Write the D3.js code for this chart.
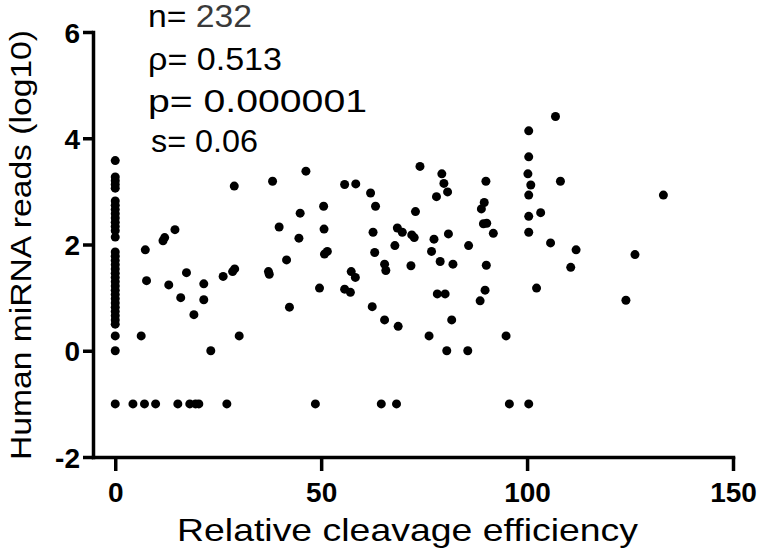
<!DOCTYPE html>
<html>
<head>
<meta charset="utf-8">
<script src="https://cdn.jsdelivr.net/npm/d3@7"></script>
<style>
  html, body { margin: 0; padding: 0; background: #fff; }
  svg { display: block; }
  text { font-family: "Liberation Sans", Arial, Helvetica, sans-serif; }
</style>
</head>
<body>
<svg id="chart" width="765" height="556"></svg>
<script>
// ---- data ----
const xTicks = [0, 50, 100, 150];
const yTicks = [-2, 0, 2, 4, 6];
const xTitle = "Relative cleavage efficiency";
const yTitle = "Human miRNA reads (log10)";
const statLabels = ["n= ", "ρ= ", "p= ", "s= "];
const statValues = ["232", "0.513", "0.000001", "0.06"];

// miRNAs with zero cleavage efficiency (x = 0): log10 reads
const zeroColumnReads = [3.58, 3.27, 3.2, 3.13, 3.06, 2.82, 2.74, 2.66, 2.58, 2.5, 2.42,
  2.34, 2.26, 2.14, 1.86, 1.78, 1.7, 1.62, 1.54, 1.46, 1.38, 1.3, 1.22, 1.14, 1.06,
  0.98, 0.9, 0.82, 0.74, 0.66, 0.58, 0.5, 0.28, 0, -1];

// miRNAs with no reads (y = -1): cleavage efficiency
const noReadsCleavage = [4.3, 7.1, 9.8, 15.2, 18.1, 19.5, 20.3, 27.1, 48.6, 64.6, 68.3, 95.7, 100.4];

// remaining miRNAs: cleavage efficiency and log10 reads
const cleavage = [7.3, 11.6, 12.0, 14.5, 7.6, 13.0, 17.3, 21.5, 15.9, 21.5, 26.2, 28.5, 29.0,
  28.9, 38.2, 39.8, 41.6, 37.2, 37.4, 19.1, 6.3, 30.1, 23.2, 42.3,
  46.3, 55.7, 58.4, 62.0, 63.2, 74.0, 79.3, 79.8, 80.7, 78.0, 72.9, 50.6, 44.9, 44.6,
  50.7, 50.8, 51.5, 49.6, 55.7, 57.1, 57.3, 58.3, 62.6, 63.0, 65.4, 65.7, 67.9, 68.5,
  69.7, 72.0, 72.6, 71.8, 77.4, 76.8, 78.9, 82.0, 80.9, 85.8, 78.2, 80.1,
  62.4, 65.4, 68.7, 81.7, 76.2, 80.5, 85.6,
  106.9, 100.4, 100.4, 100.2, 100.9, 100.4, 108.1, 133.1, 90.0, 89.6, 88.9, 89.4, 90.2,
  91.8, 100.4, 100.4, 103.3, 90.1, 105.7, 111.9, 110.6, 126.2, 89.8, 102.3, 124.0,
  88.6, 94.9];
const reads = [1.9, 2.07, 2.13, 2.28, 1.32, 1.24, 1.47, 1.26, 1.0, 0.96, 1.4, 1.49, 1.54,
  3.1, 3.19, 2.33, 1.71, 1.49, 1.44, 0.68, 0.28, 0.28, 0.0, 0.82,
  3.38, 3.13, 3.14, 2.97, 2.72, 3.47, 3.33, 3.15, 2.99, 2.9, 2.62, 2.72, 2.59, 2.12,
  2.29, 1.82, 1.87, 1.18, 1.16, 1.1, 1.49, 1.38, 2.23, 1.85, 1.63, 1.51, 1.98, 2.31,
  2.23, 2.18, 2.13, 1.6, 2.1, 1.87, 1.68, 1.63, 2.2, 1.98, 1.07, 1.07,
  0.83, 0.58, 0.46, 0.58, 0.28, 0.0, 0.0,
  4.41, 4.14, 3.65, 3.33, 3.12, 2.93, 3.19, 2.93, 3.19, 2.79, 2.67, 2.39, 2.4,
  2.21, 2.53, 2.23, 2.6, 1.61, 2.03, 1.9, 1.57, 1.81, 1.14, 1.18, 0.95,
  0.94, 0.28];

// ---- build point list ----
const points = [];
zeroColumnReads.forEach(r => points.push({ x: 0, y: r }));
noReadsCleavage.forEach(c => points.push({ x: c, y: -1 }));
cleavage.forEach((c, i) => points.push({ x: c, y: reads[i] }));

// ---- layout ----
const svg = d3.select("#chart");
const x = d3.scaleLinear().domain([-5.4, 150]).range([93, 733]);
const y = d3.scaleLinear().domain([-2, 6]).range([457, 32]);

const axisStroke = 3.5;

// x axis
const gx = svg.append("g").attr("transform", `translate(0,${y(-2)})`)
  .call(d3.axisBottom(x).tickValues(xTicks).tickSizeInner(14).tickSizeOuter(0).tickPadding(11)
    .tickFormat(d => String(d)));
// y axis
const gy = svg.append("g").attr("transform", `translate(${x(-5.4)},0)`)
  .call(d3.axisLeft(y).tickValues(yTicks).tickSizeInner(10).tickSizeOuter(0).tickPadding(3)
    .tickFormat(d => String(d)));

[gx, gy].forEach(g => {
  g.select(".domain").attr("stroke", "#000").attr("stroke-width", axisStroke)
    .attr("stroke-linecap", "square");
  g.selectAll(".tick line").attr("stroke", "#000").attr("stroke-width", axisStroke);
  g.selectAll(".tick text").attr("fill", "#000").attr("font-size", 28).attr("font-weight", "bold")
    .attr("font-family", "'Liberation Sans', Arial, sans-serif");
});
gy.selectAll(".tick text").attr("dy", "0.36em");

// points
svg.append("g").selectAll("circle").data(points).join("circle")
  .attr("cx", d => x(d.x)).attr("cy", d => y(d.y)).attr("r", 4.5).attr("fill", "#000");

// axis titles
svg.append("text").attr("x", 177).attr("y", 541)
  .attr("font-size", 32).attr("fill", "#000")
  .attr("textLength", 461).attr("lengthAdjust", "spacingAndGlyphs")
  .text(xTitle);

svg.append("text").attr("transform", "translate(31,460) rotate(-90)")
  .attr("x", 0).attr("y", 0)
  .attr("font-size", 30).attr("fill", "#000")
  .attr("textLength", 430).attr("lengthAdjust", "spacingAndGlyphs")
  .text(yTitle);

// statistics annotation
const baselines = [27, 70, 112, 152];
const lineStarts = [148, 148, 148, 151];
const lineWidths = [104, 134, 219, 107];
statLabels.forEach((lab, i) => {
  const t = svg.append("text").attr("x", lineStarts[i]).attr("y", baselines[i])
    .attr("font-size", 31).attr("fill", "#000")
    .attr("textLength", lineWidths[i]).attr("lengthAdjust", "spacingAndGlyphs");
  t.append("tspan").text(lab);
  t.append("tspan").attr("fill", i === 0 ? "#3a3a3a" : "#000").text(statValues[i]);
});
</script>
</body>
</html>
